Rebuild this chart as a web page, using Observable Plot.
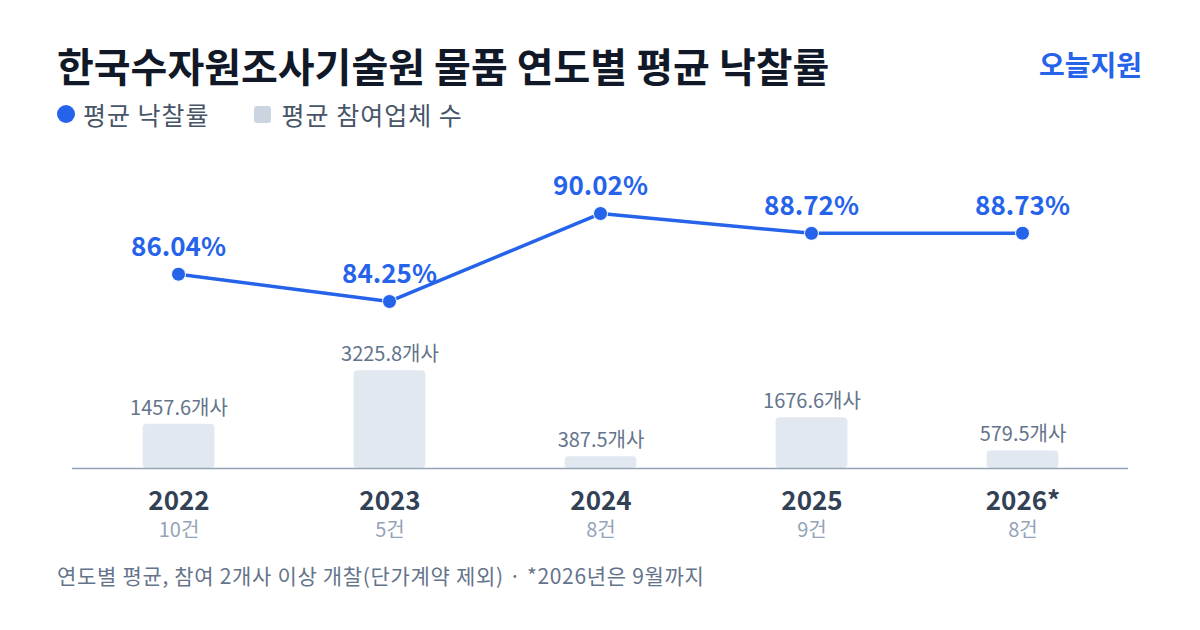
<!DOCTYPE html>
<html><head><meta charset="utf-8">
<script src="https://cdn.jsdelivr.net/npm/d3@7"></script>
<script src="https://cdn.jsdelivr.net/npm/@observablehq/plot@0.6"></script>
<style>
body{margin:0;background:#fff;font-family:"Noto Sans CJK KR","Noto Sans",sans-serif;}
#wrap{position:relative;width:1200px;height:630px;overflow:hidden;background:#fff;}
.title{position:absolute;left:57px;top:36px;font-size:40px;font-weight:700;color:#111827;white-space:nowrap;}
.brand{position:absolute;right:58px;top:44px;font-size:28px;font-weight:700;color:#2563eb;}
.legend{position:absolute;left:57px;top:96px;font-size:25px;letter-spacing:1px;color:#475569;display:flex;align-items:center;white-space:nowrap;}
.legend .dot{width:18px;height:18px;border-radius:50%;background:#2563eb;display:inline-block;margin-right:8px;}
.legend .sq{width:17px;height:17px;border-radius:3px;background:#cbd5e1;display:inline-block;margin-left:44px;margin-right:11px;}
.foot{position:absolute;left:57px;top:560px;font-size:21px;letter-spacing:0.68px;color:#64748b;white-space:nowrap;}
.layer{position:absolute;left:0;top:150px;}
</style></head>
<body>
<div id="wrap">
  <div class="title">한국수자원조사기술원 물품 연도별 평균 낙찰률</div>
  <div class="brand">오늘지원</div>
  <div class="legend"><span class="dot"></span>평균 낙찰률<span class="sq"></span>평균 참여업체 수</div>
  <div class="layer" id="bars"></div>
  <div class="layer" id="line"></div>
  <div class="foot">연도별 평균, 참여 2개사 이상 개찰(단가계약 제외) · *2026년은 9월까지</div>
</div>
<script>
const years = ["2022","2023","2024","2025","2026"];
const yearLabels = ["2022","2023","2024","2025","2026*"];
const rates = [86.04, 84.25, 90.02, 88.72, 88.73];
const firms = [1457.6, 3225.8, 387.5, 1676.6, 579.5];
const counts = [10, 5, 8, 9, 8];

const data = years.map((y, i) => ({year: y, label: yearLabels[i], rate: rates[i], firms: firms[i], count: counts[i]}));
const font = '"Noto Sans CJK KR","Noto Sans",sans-serif';

const bars = Plot.plot({
  width: 1200, height: 400,
  marginLeft: 72, marginRight: 72, marginTop: 218, marginBottom: 82,
  style: {fontFamily: font, background: "transparent", overflow: "visible"},
  x: {type: "band", domain: years, padding: 0, axis: null},
  y: {domain: [0, 3300], axis: null},
  marks: [
    Plot.barY(data, {x: "year", y: "firms", fill: "#e2e8f0", insetLeft: 69.6, insetRight: 69.6, rx: 4}),
    Plot.ruleY([0], {stroke: "#94a3b8", strokeWidth: 1.5}),
    Plot.text(data, {x: "year", y: "firms", text: d => d.firms.toFixed(1) + "개사", dy: -16, fill: "#64748b", fontSize: 20}),
    Plot.text(data, {x: "year", y: () => 0, text: "label", dy: 33, fill: "#334155", fontSize: 26, fontWeight: 700}),
    Plot.text(data, {x: "year", y: () => 0, text: d => d.count + "건", dy: 62, fill: "#94a3b8", fontSize: 20})
  ]
});
document.getElementById("bars").appendChild(bars);

const line = Plot.plot({
  width: 1200, height: 400,
  marginLeft: 72, marginRight: 72, marginTop: 48.1, marginBottom: 245.2,
  style: {fontFamily: font, background: "transparent", overflow: "visible"},
  x: {type: "point", domain: years, padding: 0.5, axis: null},
  y: {domain: [84, 91], axis: null},
  marks: [
    Plot.line(data, {x: "year", y: "rate", stroke: "#2563eb", strokeWidth: 3.5}),
    Plot.dot(data, {x: "year", y: "rate", r: 7, fill: "#2563eb", stroke: "#fff", strokeWidth: 1}),
    Plot.text(data, {x: "year", y: "rate", text: d => d.rate.toFixed(2) + "%", dy: -27, fill: "#2563eb", fontSize: 26, fontWeight: 700})
  ]
});
document.getElementById("line").appendChild(line);
</script>
</body></html>
